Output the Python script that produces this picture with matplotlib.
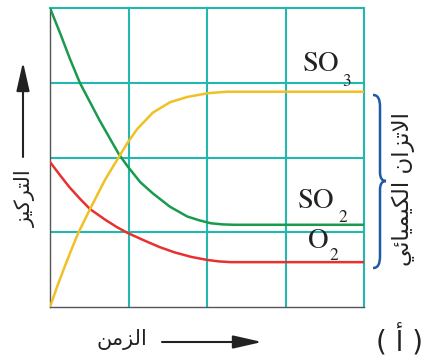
import matplotlib
matplotlib.use("Agg")
import matplotlib.pyplot as plt
from matplotlib.path import Path
from matplotlib.patches import PathPatch, FancyArrowPatch

# data (time and concentration in grid units)
t_so2 = [0, 0.13, 0.25, 0.38, 0.5, 0.63, 0.76, 0.88, 0.99, 1.15, 1.31, 1.53, 1.75, 1.9, 2.05, 2.2, 2.35, 4.0]
so2 = [4.0, 3.66, 3.33, 3.0, 2.76, 2.5, 2.26, 2.04, 1.88, 1.67, 1.52, 1.34, 1.21, 1.16, 1.12, 1.105, 1.1, 1.1]

t_o2 = [0, 0.13, 0.25, 0.38, 0.51, 0.7, 0.85, 0.99, 1.2, 1.4, 1.59, 1.8, 2.0, 2.15, 2.3, 4.0]
o2 = [1.94, 1.76, 1.6, 1.45, 1.31, 1.17, 1.07, 0.99, 0.89, 0.8, 0.73, 0.67, 0.63, 0.61, 0.6, 0.6]

t_so3 = [0, 0.09, 0.18, 0.27, 0.36, 0.51, 0.7, 0.89, 0.99, 1.11, 1.31, 1.53, 1.75, 2.01, 2.25, 4.0]
so3 = [0, 0.27, 0.52, 0.76, 0.99, 1.31, 1.7, 2.03, 2.2, 2.38, 2.6, 2.74, 2.81, 2.86, 2.88, 2.88]

# species labels: (main text, subscript)
species = [("SO", "3"), ("SO", "2"), ("O", "2")]

# arabic labels in presentation forms, visual order (matplotlib does no shaping)
lbl_conc = "\uFEB0\uFEF4\uFEDB\uFEAE\uFE98\uFEDF\uFE8D"          # التركيز
lbl_time = "\uFEE6\uFEE3\uFEB0\uFEDF\uFE8D"                      # الزمن
lbl_eq = ("\uFEF2\uFE8B\uFE8E\uFEF4\uFEE4\uFEF4\uFEDC\uFEDF\uFE8D"
          " \uFEE5\uFE8D\uFEB0\uFE97\uFEFB\uFE8D")                # الاتزان الكيميائي
lbl_fig = "( \uFE83 )"                                            # (أ)

W, H = 425, 356
plt.rcParams["mathtext.fontset"] = "stix"

fig = plt.figure(figsize=(W / 100, H / 100), dpi=100)
ax = fig.add_axes([50 / W, 1 - 307 / H, 314 / W, 299 / H])

grid_c = "#22b8b0"
ax.set_xlim(0, 4)
ax.set_ylim(0, 4)
ax.set_xticks([1, 2, 3])
ax.set_yticks([1, 2, 3])
ax.tick_params(length=0, labelbottom=False, labelleft=False)
ax.grid(True, color=grid_c, lw=1.5)
for s in ["top", "right"]:
    ax.spines[s].set_color(grid_c)
    ax.spines[s].set_linewidth(1.5)
for s in ["left", "bottom"]:
    ax.spines[s].set_color("#555555")
    ax.spines[s].set_linewidth(1.0)

ax.plot(t_so2, so2, color="#1a9a4c", lw=1.8, zorder=3)
ax.plot(t_o2, o2, color="#e8312f", lw=1.8, zorder=3)
ax.plot(t_so3, so3, color="#f0c024", lw=1.8, zorder=3)

# label positions: main text (x, baseline), subscript (x, baseline)
label_pos = [((3.21, 3.16), (3.72, 2.96)),
             ((3.15, 1.32), (3.67, 1.14)),
             ((3.28, 0.79), (3.55, 0.63))]
for (main, sub), (p_main, p_sub) in zip(species, label_pos):
    ax.text(*p_main, r"$\mathrm{%s}$" % main, fontsize=20.5, color="#222222", va="baseline")
    ax.text(*p_sub, r"$\mathrm{%s}$" % sub, fontsize=12.5, color="#222222", va="baseline")


def px(x, y):
    return (x / W, 1 - y / H)


# brace
verts = [px(373, 95), px(378, 95), px(380, 99), px(380, 107),
         px(380, 172), px(380, 178), px(382, 181), px(386, 181),
         px(382, 181), px(380, 184), px(380, 190),
         px(380, 256), px(380, 264), px(378, 268), px(373, 268)]
codes = [Path.MOVETO, Path.CURVE4, Path.CURVE4, Path.CURVE4,
         Path.LINETO, Path.CURVE4, Path.CURVE4, Path.CURVE4,
         Path.CURVE4, Path.CURVE4, Path.CURVE4,
         Path.LINETO, Path.CURVE4, Path.CURVE4, Path.CURVE4]
fig.add_artist(PathPatch(Path(verts, codes), transform=fig.transFigure,
                         fill=False, edgecolor="#1f5aa6", lw=1.8))

# arrows
arrow_kw = dict(transform=fig.transFigure, arrowstyle="-|>,head_length=1.1,head_width=0.25",
                mutation_scale=16, color="#222222", lw=1.5, shrinkA=0, shrinkB=0)
fig.add_artist(FancyArrowPatch(px(23, 157), px(23, 62), **arrow_kw))
fig.add_artist(FancyArrowPatch(px(162, 342), px(262, 342), **arrow_kw))

fig.text(*px(25, 198), lbl_conc, rotation=90, fontsize=15, ha="center", va="center",
         family="DejaVu Sans", color="#222222")
fig.text(*px(122, 340), lbl_time, fontsize=15, ha="center", va="center",
         family="DejaVu Sans", color="#222222")
fig.text(*px(403, 189), lbl_eq, rotation=90, fontsize=16.5, ha="center", va="center",
         family="DejaVu Sans", color="#222222")
fig.text(*px(399, 341), lbl_fig, fontsize=20, ha="center", va="center",
         family="DejaVu Sans", color="#222222")

fig.savefig("out.png", dpi=100)
